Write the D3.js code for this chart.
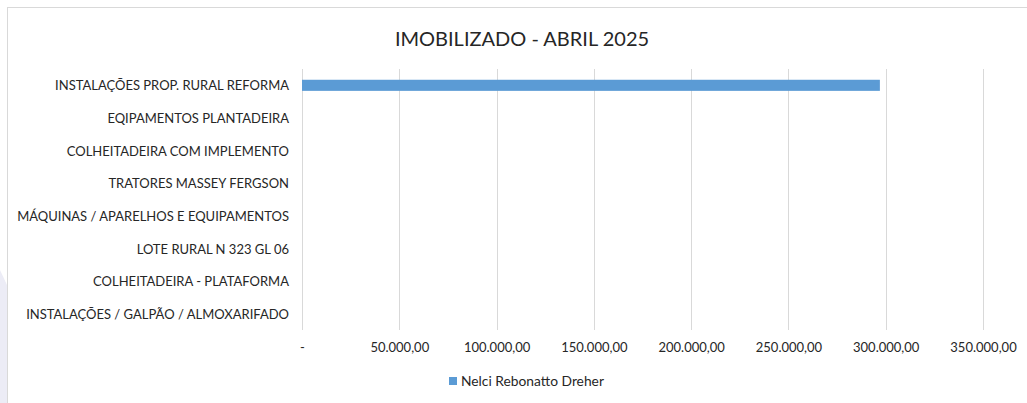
<!DOCTYPE html>
<html>
<head>
<meta charset="utf-8">
<script src="https://cdn.jsdelivr.net/npm/d3@7"></script>
<style>
  html, body { margin: 0; padding: 0; background: #fff; }
  svg { display: block; }
  text { font-family: Lato, "Open Sans", sans-serif; fill: #262626; }
</style>
</head>
<body>
<svg id="chart" width="1027" height="403"></svg>
<script>
const title = "IMOBILIZADO - ABRIL 2025";
const categories = [
  "INSTALAÇÕES PROP. RURAL REFORMA",
  "EQIPAMENTOS PLANTADEIRA",
  "COLHEITADEIRA COM IMPLEMENTO",
  "TRATORES MASSEY FERGSON",
  "MÁQUINAS / APARELHOS E EQUIPAMENTOS",
  "LOTE RURAL N 323 GL 06",
  "COLHEITADEIRA - PLATAFORMA",
  "INSTALAÇÕES / GALPÃO / ALMOXARIFADO"
];
const seriesName = "Nelci Rebonatto Dreher";
const values = [297000, 0, 0, 0, 0, 0, 0, 0];
const tickValues = [0, 50000, 100000, 150000, 200000, 250000, 300000, 350000];
const tickLabels = ["-", "50.000,00", "100.000,00", "150.000,00", "200.000,00", "250.000,00", "300.000,00", "350.000,00"];

const svg = d3.select("#chart");
const W = 1027, H = 403;
const plot = { left: 302, right: 983, top: 69, bottom: 330 };
const barColor = "#5b9bd5";

// faint background shape on left edge
svg.append("path")
  .attr("d", "M0,270 L7,285 L7,403 L0,403 Z")
  .attr("fill", "#ececf6");

// chart border
svg.append("rect")
  .attr("x", 7.5).attr("y", 7.5)
  .attr("width", W - 7).attr("height", H)
  .attr("fill", "#fff").attr("stroke", "#d9d9d9");

const x = d3.scaleLinear().domain([0, 350000]).range([plot.left, plot.right]);
const y = d3.scaleBand().domain(categories).range([plot.top, plot.bottom]).paddingInner(0.66).paddingOuter(0.33);

// gridlines
svg.append("g").selectAll("line").data(tickValues).join("line")
  .attr("x1", d => Math.round(x(d)) + 0.5).attr("x2", d => Math.round(x(d)) + 0.5)
  .attr("y1", plot.top).attr("y2", plot.bottom)
  .attr("stroke", "#d9d9d9").attr("stroke-width", 1);

// x axis labels
const xAxis = d3.axisBottom(x).tickValues(tickValues).tickSize(0)
  .tickFormat((d, i) => tickLabels[i]);
const gx = svg.append("g").attr("transform", `translate(0,${plot.bottom + 10})`).call(xAxis);
gx.select(".domain").remove();
gx.selectAll("text").attr("font-size", 13).attr("dy", "0.71em").style("font-family", "Lato, sans-serif").attr("fill", "#262626");

// y axis labels
const yAxis = d3.axisLeft(y).tickSize(0).tickPadding(13);
const gy = svg.append("g").attr("transform", `translate(${plot.left},1)`).call(yAxis);
gy.select(".domain").remove();
gy.selectAll("text").attr("font-size", 13).style("font-family", "Lato, sans-serif").attr("fill", "#262626");

// bars
svg.append("g").selectAll("rect").data(values).join("rect")
  .attr("x", x(0)).attr("y", (d, i) => y(categories[i]))
  .attr("width", d => x(d) - x(0)).attr("height", y.bandwidth())
  .attr("fill", barColor);

// title
svg.append("text").attr("x", 522).attr("y", 46).attr("text-anchor", "middle")
  .attr("font-size", 20).text(title);

// legend
svg.append("rect").attr("x", 449).attr("y", 377).attr("width", 8).attr("height", 8).attr("fill", barColor);
svg.append("text").attr("x", 461).attr("y", 386).attr("font-size", 13.8).text(seriesName);
</script>
</body>
</html>
